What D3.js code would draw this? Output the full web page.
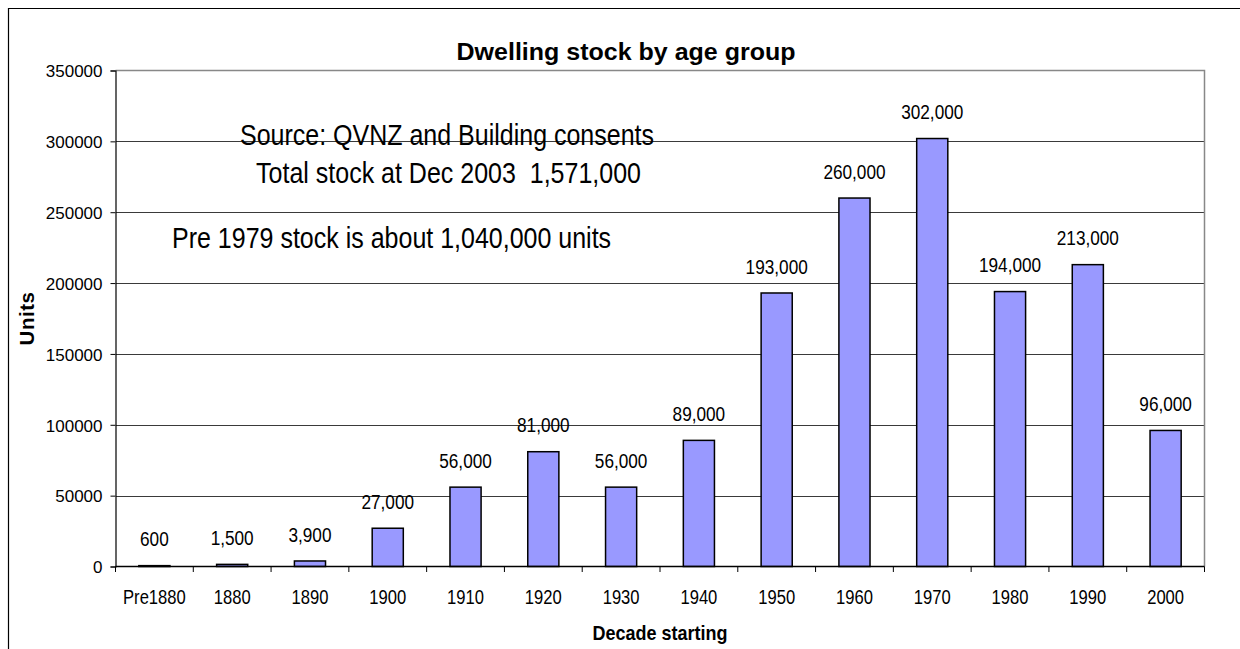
<!DOCTYPE html>
<html>
<head>
<meta charset="utf-8">
<script src="https://cdn.jsdelivr.net/npm/d3@7/dist/d3.min.js"></script>
<style>
  body { margin: 0; background: #fff; }
  svg { display: block; font-family: "Liberation Sans", Arial, sans-serif; }
  text { white-space: pre; }
  .grid line { stroke: #3a3a3a; stroke-width: 1; shape-rendering: crispEdges; }
  .bar { fill: #9999ff; stroke: #000; stroke-width: 1.5; }
</style>
</head>
<body>
<script>

// data
const decades = ["Pre1880", "1880", "1890", "1900", "1910", "1920", "1930",
                 "1940", "1950", "1960", "1970", "1980", "1990", "2000"];
const units = [600, 1500, 3900, 27000, 56000, 81000, 56000,
               89000, 193000, 260000, 302000, 194000, 213000, 96000];
const yTicks = [0, 50000, 100000, 150000, 200000, 250000, 300000, 350000];

const chartTitle = "Dwelling stock by age group";
const xTitle = "Decade starting";
const yTitle = "Units";
const notes = ["Source: QVNZ and Building consents",
               "Total stock at Dec 2003  1,571,000",
               "Pre 1979 stock is about 1,040,000 units"];

const width = 1240, height = 649;
const plotLeft = 115.5, plotRight = 1204.5, plotTop = 70.5, plotBottom = 566.5;

const svg = d3.select("body").append("svg")
    .attr("width", width)
    .attr("height", height);

// outer chart border (cropped on right and bottom)
svg.append("path")
   .attr("d", `M8.5,${height} V8.5 H${width}`)
   .attr("fill", "none")
   .attr("stroke", "#000")
   .attr("stroke-width", 1.2);

const xScale = d3.scaleBand()
                 .domain(decades)
                 .range([plotLeft, plotRight])
                 .paddingInner(0.6)
                 .paddingOuter(0.3);

const yScale = d3.scaleLinear()
                 .domain([0, 350000])
                 .range([plotBottom, plotTop]);

// text stretched vertically like the original picture
function putText(x, y, str, size, sy, anchor, weight) {
    return svg.append("text")
              .attr("transform", `translate(${x},${y}) scale(1,${sy})`)
              .attr("text-anchor", anchor)
              .attr("font-size", size)
              .attr("font-weight", weight || "normal")
              .attr("fill", "#000")
              .text(str);
}

// gridlines
svg.append("g")
   .attr("class", "grid")
   .selectAll("line")
   .data(yTicks.filter(d => d > 0 && d < 350000))
   .enter()
   .append("line")
   .attr("x1", plotLeft)
   .attr("x2", plotRight)
   .attr("y1", d => Math.round(yScale(d)) + 0.5)
   .attr("y2", d => Math.round(yScale(d)) + 0.5);

// plot area top and right edges (grey)
svg.append("path")
   .attr("d", `M${plotLeft},${plotTop} H${plotRight} V${plotBottom}`)
   .attr("fill", "none")
   .attr("stroke", "#888")
   .attr("stroke-width", 1.5);

// bars
svg.selectAll(".bar")
   .data(units)
   .enter()
   .append("rect")
   .attr("class", "bar")
   .attr("x", (d, i) => xScale(decades[i]))
   .attr("width", xScale.bandwidth())
   .attr("y", d => yScale(d))
   .attr("height", d => plotBottom - yScale(d));

// bar values
units.forEach((d, i) => {
    putText(xScale(decades[i]) + xScale.bandwidth() / 2, yScale(d) - 19.3,
            d3.format(",")(d), 17.2, 1.19, "middle");
});

// y axis
const yAxis = d3.axisLeft(yScale)
                .tickValues(yTicks)
                .tickSize(5)
                .tickPadding(8)
                .tickFormat(d3.format("d"));

const gy = svg.append("g")
              .attr("transform", `translate(${plotLeft},0)`)
              .call(yAxis);
gy.select(".domain").attr("stroke", "#000").attr("stroke-width", 1.2);
gy.selectAll(".tick line").attr("stroke", "#000");
gy.selectAll(".tick text")
  .attr("font-size", 17)
  .attr("font-family", "Liberation Sans, Arial, sans-serif")
  .attr("fill", "#000")
  .attr("dy", "0.37em");

// x axis line and ticks between categories
svg.append("line")
   .attr("x1", plotLeft).attr("x2", plotRight)
   .attr("y1", plotBottom).attr("y2", plotBottom)
   .attr("stroke", "#000")
   .attr("stroke-width", 1.5);

const step = xScale.step();
svg.selectAll(".xtick")
   .data(d3.range(decades.length + 1))
   .enter()
   .append("line")
   .attr("class", "xtick")
   .attr("x1", i => plotLeft + i * step)
   .attr("x2", i => plotLeft + i * step)
   .attr("y1", plotBottom)
   .attr("y2", plotBottom + 5.5)
   .attr("stroke", "#000")
   .attr("stroke-width", 1);

decades.forEach(d => {
    putText(xScale(d) + xScale.bandwidth() / 2, 604, d, 16.6, 1.22, "middle");
});

// titles
putText(626, 59.5, chartTitle, 25, 0.96, "middle", "bold");
putText((plotLeft + plotRight) / 2, 640, xTitle, 18, 1.09, "middle", "bold");

svg.append("text")
   .attr("transform", `translate(33.5,${(plotTop + plotBottom) / 2}) rotate(-90)`)
   .attr("text-anchor", "middle")
   .attr("font-size", 20.5)
   .attr("font-weight", "bold")
   .attr("letter-spacing", 0.5)
   .text(yTitle);

// annotations
putText(447, 145, notes[0], 25, 1.2, "middle");
putText(448.5, 183.3, notes[1], 25, 1.2, "middle");
putText(172, 248.3, notes[2], 25, 1.2, "start");

</script>
</body>
</html>
